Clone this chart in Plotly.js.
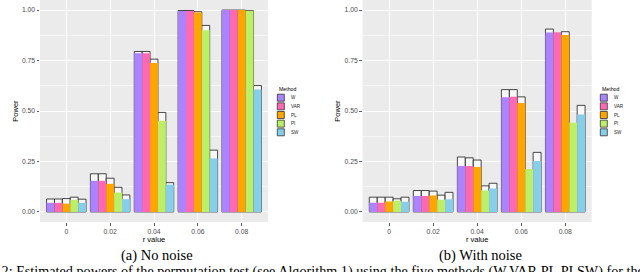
<!DOCTYPE html>
<html>
<head>
<meta charset="utf-8">
<script src="https://cdn.plot.ly/plotly-3.0.1.min.js"></script>
<style>html,body{margin:0;padding:0;background:#fff;}#chart{width:640px;height:272px;}</style>
</head>
<body>
<div id="chart"></div>
<script>
// ---- data ----
const rValues = ['0', '0.02', '0.04', '0.06', '0.08'];
const methods = ['W', 'VAR', 'PL', 'PI', 'SW'];
const methodColors = ['#AB82FF', '#FF69B4', '#FFA500', '#BCEE68', '#87CEEB'];

// (a) No noise: estimated power
const noNoiseW   = [0.045, 0.154, 0.786, 0.995, 1.000];
const noNoiseVAR = [0.045, 0.154, 0.786, 0.996, 1.000];
const noNoisePL  = [0.041, 0.139, 0.738, 0.988, 1.000];
const noNoisePI  = [0.060, 0.096, 0.452, 0.900, 0.995];
const noNoiseSW  = [0.045, 0.063, 0.135, 0.265, 0.606];
// (a) No noise: upper bars (outlined)
const noNoiseUpW   = [0.064, 0.189, 0.795, 0.998, 1.000];
const noNoiseUpVAR = [0.064, 0.189, 0.795, 0.998, 1.000];
const noNoiseUpPL  = [0.066, 0.167, 0.757, 0.992, 1.000];
const noNoiseUpPI  = [0.073, 0.122, 0.493, 0.924, 0.997];
const noNoiseUpSW  = [0.063, 0.084, 0.145, 0.306, 0.626];

// (b) With noise: estimated power
const noiseW   = [0.045, 0.079, 0.228, 0.568, 0.889];
const noiseVAR = [0.045, 0.079, 0.228, 0.571, 0.889];
const noisePL  = [0.051, 0.081, 0.222, 0.540, 0.877];
const noisePI  = [0.055, 0.060, 0.106, 0.212, 0.442];
const noiseSW  = [0.050, 0.063, 0.116, 0.252, 0.483];
// (b) With noise: upper bars (outlined)
const noiseUpW   = [0.073, 0.106, 0.272, 0.606, 0.906];
const noiseUpVAR = [0.073, 0.106, 0.268, 0.606, 0.885];
const noiseUpPL  = [0.073, 0.103, 0.257, 0.570, 0.893];
const noiseUpPI  = [0.065, 0.083, 0.129, 0.205, 0.435];
const noiseUpSW  = [0.073, 0.097, 0.142, 0.295, 0.528];

const yTickVals = [0, 0.25, 0.5, 0.75, 1];
const yTickText = ['0.00', '0.25', '0.50', '0.75', '1.00'];

const panels = [
  {xa: 'x', ya: 'y', group: 'a', power: [noNoiseW, noNoiseVAR, noNoisePL, noNoisePI, noNoiseSW],
   upper: [noNoiseUpW, noNoiseUpVAR, noNoiseUpPL, noNoiseUpPI, noNoiseUpSW]},
  {xa: 'x2', ya: 'y2', group: 'b', power: [noiseW, noiseVAR, noisePL, noisePI, noiseSW],
   upper: [noiseUpW, noiseUpVAR, noiseUpPL, noiseUpPI, noiseUpSW]}
];

// ---- geometry ----
const W = 640, H = 272;
const px = v => v / W;
const py = v => 1 - v / H;

const traces = [];
panels.forEach(p => {
  methods.forEach((m, i) => {
    traces.push({
      type: 'bar', x: rValues, y: p.upper[i], xaxis: p.xa, yaxis: p.ya,
      offsetgroup: m, alignmentgroup: p.group, name: m, showlegend: false, hoverinfo: 'skip',
      marker: {color: 'rgba(255,255,255,0.6)', line: {color: '#333333', width: 0.9}}
    });
  });
  methods.forEach((m, i) => {
    traces.push({
      type: 'bar', x: rValues, y: p.power[i], xaxis: p.xa, yaxis: p.ya,
      offsetgroup: m, alignmentgroup: p.group, name: m, showlegend: false,
      marker: {color: methodColors[i], line: {width: 0}}
    });
  });
});

const tickFont = {family: 'Liberation Sans, Arial, sans-serif', size: 6.8, color: '#4D4D4D'};
const titleFont = {family: 'Liberation Sans, Arial, sans-serif', size: 7.5, color: '#000'};

function xAxis(d0, d1, anchor) {
  return {
    domain: [d0, d1], anchor: anchor, type: 'category', categoryorder: 'array', categoryarray: rValues,
    range: [-0.6, 4.6], showgrid: true, gridcolor: '#FFFFFF', gridwidth: 1,
    ticks: 'outside', ticklen: 2.5, tickcolor: '#333333', tickwidth: 0.8, tickfont: tickFont,
    zeroline: false, showline: false, automargin: false,
    title: {text: 'r value', font: titleFont, standoff: 0}
  };
}
function yAxis(anchor) {
  return {
    domain: [py(222), 1], anchor: anchor, range: [-0.05, 1.05],
    tickvals: yTickVals, ticktext: yTickText,
    showgrid: true, gridcolor: '#FFFFFF', gridwidth: 1,
    minor: {tickvals: [0.125, 0.375, 0.625, 0.875], showgrid: true, gridcolor: '#FFFFFF', gridwidth: 0.5, ticks: ''},
    ticks: 'outside', ticklen: 2.5, tickcolor: '#333333', tickwidth: 0.8, tickfont: tickFont,
    zeroline: false, showline: false, automargin: false,
    title: {text: 'Power', font: titleFont, standoff: 2}
  };
}

const shapes = [];
const annotations = [];
const legendFont = {family: 'Liberation Sans, Arial, sans-serif', size: 4.6, color: '#222'};
function addLegend(x0) {
  annotations.push({xref: 'paper', yref: 'paper', x: px(x0), y: py(88.7), xanchor: 'left', yanchor: 'middle',
    text: 'Method', showarrow: false, font: {family: 'Liberation Sans, Arial, sans-serif', size: 5.2, color: '#000'}});
  methods.forEach((m, i) => {
    const cy = 97.7 + i * 8.65;
    shapes.push({type: 'rect', xref: 'paper', yref: 'paper', x0: px(x0 + 0.3), x1: px(x0 + 7.3),
      y0: py(cy - 3.5), y1: py(cy + 3.5), fillcolor: methodColors[i], line: {color: '#333333', width: 0.8}});
    annotations.push({xref: 'paper', yref: 'paper', x: px(x0 + 11.5), y: py(cy), xanchor: 'left', yanchor: 'middle',
      text: m, showarrow: false, font: legendFont});
  });
}
addLegend(277);
addLegend(600);

const capFont = {family: 'Liberation Serif, Times New Roman, serif', size: 14.5, color: '#000'};
annotations.push({xref: 'paper', yref: 'paper', x: px(157), y: py(255), xanchor: 'center', yanchor: 'middle',
  text: '(a) No noise', showarrow: false, font: capFont});
annotations.push({xref: 'paper', yref: 'paper', x: px(480), y: py(255), xanchor: 'center', yanchor: 'middle',
  text: '(b) With noise', showarrow: false, font: capFont});
annotations.push({xref: 'paper', yref: 'paper', x: px(-41), y: py(271.5), xanchor: 'left', yanchor: 'middle',
  text: 'Figure 2: Estimated powers of the permutation test (see Algorithm 1) using the five methods (W,VAR,PL,PI,SW) for the asymmetric',
  showarrow: false, font: {family: 'Liberation Serif, Times New Roman, serif', size: 14.2, color: '#000'}});

const layout = {
  width: W, height: H, margin: {l: 0, r: 0, t: 0, b: 0},
  paper_bgcolor: '#FFFFFF', plot_bgcolor: '#EBEBEB',
  barmode: 'group', bargap: 0.1, bargroupgap: 0,
  showlegend: false,
  xaxis: xAxis(px(40), px(268), 'y'),
  yaxis: yAxis('x'),
  xaxis2: xAxis(px(362.7), px(591.7), 'y2'),
  yaxis2: yAxis('x2'),
  shapes: shapes, annotations: annotations
};

Plotly.newPlot('chart', traces, layout, {displayModeBar: false, staticPlot: true});
</script>
</body>
</html>
